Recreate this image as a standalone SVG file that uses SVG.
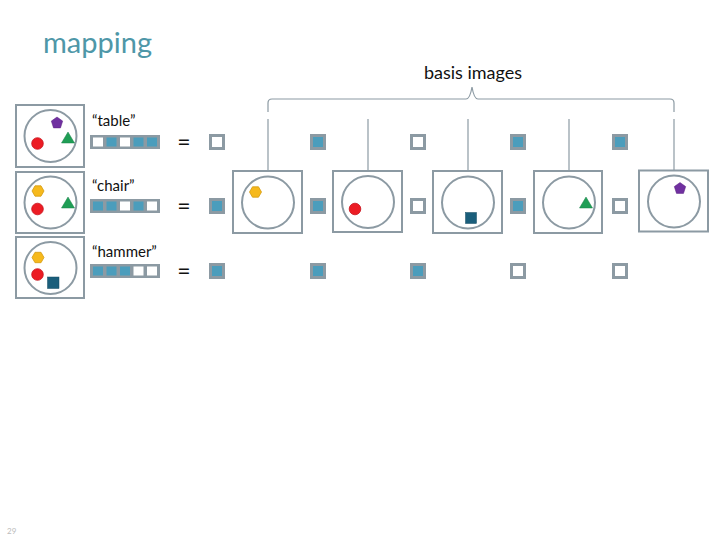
<svg xmlns="http://www.w3.org/2000/svg" width="720" height="540" viewBox="0 0 720 540">
<defs>
<style>
.frame{fill:#fff;stroke:#8c9aa3;stroke-width:2}
.circ{fill:#fff;stroke:#8c9aa3;stroke-width:2}
.ln{fill:none;stroke:#8c9aa3;stroke-width:1.2}
.sq0{fill:#fff;stroke:#8c9aa3;stroke-width:3}
.sq1{fill:#4b9dbc;stroke:#8c9aa3;stroke-width:3}
.barbg{fill:#8c9aa3}
.c0{fill:#fff}
.c1{fill:#4b9dbc}
.lbl{font-family:Lato,"Liberation Sans",sans-serif;font-size:15px;fill:#111}
.eq{font-family:Lato,"Liberation Sans",sans-serif;font-size:23px;fill:#111;text-anchor:middle}
.red{fill:#ec1c24;stroke:#c8101a;stroke-width:0.8}
.yel{fill:#f6b91c;stroke:#d49a10;stroke-width:0.8}
.grn{fill:#1f9e55;stroke:#188048;stroke-width:0.5}
.pur{fill:#7030a0;stroke:#5a2080;stroke-width:0.5}
.dsq{fill:#1a5e7b;stroke:#124b63;stroke-width:0.5}
</style>
<polygon id="hex" points="6,0 3,5.2 -3,5.2 -6,0 -3,-5.2 3,-5.2"/>
<polygon id="tri" points="0,-6 6.5,5 -6.5,5"/>
<polygon id="pent" points="0,-6 5.7,-1.9 3.5,4.9 -3.5,4.9 -5.7,-1.9"/>
</defs>
<rect width="720" height="540" fill="#fff"/>
<text x="43" y="53" font-family="Lato,'Liberation Sans',sans-serif" font-size="29" fill="#4e97a8">mapping</text>
<text x="473" y="79" font-family="Lato,'Liberation Sans',sans-serif" font-size="18" fill="#111" text-anchor="middle">basis images</text>
<text x="7" y="534" font-family="Lato,'Liberation Sans',sans-serif" font-size="8" fill="#bbb">29</text>

<g id="connectors">
<path class="ln" d="M268,112 L268,103 Q268,99 272,99 L466,99 Q470,99 472,87 Q474,99 478,99 L670,99 Q674,99 674,103 L674,112"/>
<line class="ln" x1="268" y1="119" x2="268" y2="171"/>
<line class="ln" x1="368" y1="119" x2="368" y2="171"/>
<line class="ln" x1="468" y1="119" x2="468" y2="171"/>
<line class="ln" x1="569" y1="119" x2="569" y2="171"/>
<line class="ln" x1="674" y1="119" x2="674" y2="171"/>
</g>

<g id="word-table">
<rect class="frame" x="16" y="105" width="68" height="62"/>
<circle class="circ" cx="50.5" cy="136" r="26"/>
<use href="#pent" class="pur" x="57" y="123"/>
<circle class="red" cx="37.5" cy="143.5" r="5.8"/>
<use href="#tri" class="grn" x="68" y="138"/>
<text class="lbl" x="92" y="126">“table”</text>
<rect class="barbg" x="90" y="135" width="70" height="14"/>
<rect class="c0" x="93" y="137.5" width="10" height="9"/>
<rect class="c1" x="106.5" y="137.5" width="10" height="9"/>
<rect class="c0" x="120" y="137.5" width="10" height="9"/>
<rect class="c1" x="133.5" y="137.5" width="10" height="9"/>
<rect class="c1" x="147" y="137.5" width="10" height="9"/>
<text class="eq" x="184" y="150">=</text>
</g>

<g id="word-chair">
<rect class="frame" x="16" y="172" width="68" height="61"/>
<circle class="circ" cx="50.5" cy="202.5" r="26"/>
<use href="#hex" class="yel" x="38" y="191"/>
<circle class="red" cx="37.5" cy="209" r="5.8"/>
<use href="#tri" class="grn" x="68" y="203"/>
<text class="lbl" x="92" y="191">“chair”</text>
<rect class="barbg" x="90" y="199" width="70" height="14"/>
<rect class="c1" x="93" y="201.5" width="10" height="9"/>
<rect class="c1" x="106.5" y="201.5" width="10" height="9"/>
<rect class="c0" x="120" y="201.5" width="10" height="9"/>
<rect class="c1" x="133.5" y="201.5" width="10" height="9"/>
<rect class="c0" x="147" y="201.5" width="10" height="9"/>
<text class="eq" x="184" y="214">=</text>
</g>

<g id="word-hammer">
<rect class="frame" x="16" y="237" width="68" height="61"/>
<circle class="circ" cx="50.5" cy="268" r="26"/>
<use href="#hex" class="yel" x="38" y="257.5"/>
<circle class="red" cx="37.5" cy="274.5" r="5.8"/>
<rect class="dsq" x="47.5" y="277" width="11.5" height="11.5"/>
<text class="lbl" x="92" y="257">“hammer”</text>
<rect class="barbg" x="90" y="264" width="70" height="14"/>
<rect class="c1" x="93" y="266.5" width="10" height="9"/>
<rect class="c1" x="106.5" y="266.5" width="10" height="9"/>
<rect class="c1" x="120" y="266.5" width="10" height="9"/>
<rect class="c0" x="133.5" y="266.5" width="10" height="9"/>
<rect class="c0" x="147" y="266.5" width="10" height="9"/>
<text class="eq" x="184" y="279">=</text>
</g>

<g id="coef-table">
<rect class="sq0" x="210.5" y="135.5" width="13" height="13"/>
<rect class="sq1" x="311.5" y="135.5" width="13" height="13"/>
<rect class="sq0" x="411.5" y="135.5" width="13" height="13"/>
<rect class="sq1" x="511.5" y="135.5" width="13" height="13"/>
<rect class="sq1" x="613.5" y="135.5" width="13" height="13"/>
</g>
<g id="coef-chair">
<rect class="sq1" x="210.5" y="199.5" width="13" height="13"/>
<rect class="sq1" x="311.5" y="199.5" width="13" height="13"/>
<rect class="sq0" x="411.5" y="199.5" width="13" height="13"/>
<rect class="sq1" x="511.5" y="199.5" width="13" height="13"/>
<rect class="sq0" x="613.5" y="199.5" width="13" height="13"/>
</g>
<g id="coef-hammer">
<rect class="sq1" x="210.5" y="264.5" width="13" height="13"/>
<rect class="sq1" x="311.5" y="264.5" width="13" height="13"/>
<rect class="sq1" x="411.5" y="264.5" width="13" height="13"/>
<rect class="sq0" x="511.5" y="264.5" width="13" height="13"/>
<rect class="sq0" x="613.5" y="264.5" width="13" height="13"/>
</g>

<g id="basis-1">
<rect class="frame" x="233" y="171" width="69" height="62"/>
<circle class="circ" cx="268" cy="202.5" r="26"/>
<use href="#hex" class="yel" x="255.5" y="192"/>
</g>
<g id="basis-2">
<rect class="frame" x="333" y="171" width="69" height="61"/>
<circle class="circ" cx="368" cy="202" r="26"/>
<circle class="red" cx="355" cy="209" r="5.8"/>
</g>
<g id="basis-3">
<rect class="frame" x="433" y="171" width="69" height="62"/>
<circle class="circ" cx="468" cy="202.5" r="26"/>
<rect class="dsq" x="465.5" y="212.5" width="11" height="11"/>
</g>
<g id="basis-4">
<rect class="frame" x="534" y="171" width="68" height="62"/>
<circle class="circ" cx="569" cy="202.5" r="26"/>
<use href="#tri" class="grn" x="586" y="203"/>
</g>
<g id="basis-5">
<rect class="frame" x="639" y="170.5" width="69" height="61"/>
<circle class="circ" cx="674" cy="201.5" r="26"/>
<use href="#pent" class="pur" x="680" y="188.5"/>
</g>
</svg>
